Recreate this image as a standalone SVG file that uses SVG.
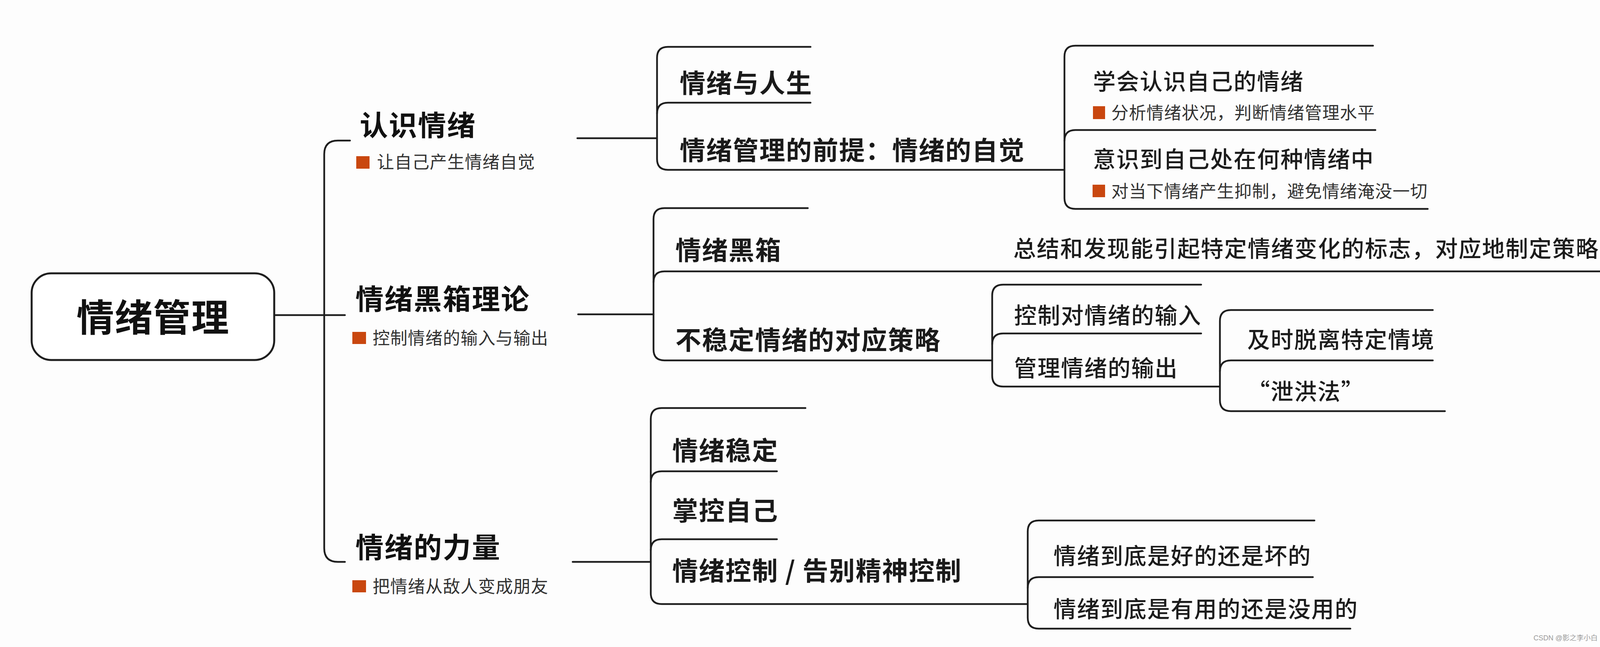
<svg xmlns="http://www.w3.org/2000/svg" width="4128" height="1657" viewBox="0 0 4128 1657">
<style>
  .ln{fill:none;stroke:#1e1e1e;stroke-width:4.5;stroke-linecap:round;stroke-linejoin:round}
  .box{fill:#ffffff;stroke:#1e1e1e;stroke-width:5}
  text{font-family:"Noto Sans CJK SC","Noto Sans",sans-serif}
  .t0{font-size:96px;font-weight:700;fill:#111;letter-spacing:2px}
  .t1{font-size:72px;font-weight:700;fill:#111;letter-spacing:2.5px}
  .t2{font-size:66px;font-weight:700;fill:#1a1a1a;letter-spacing:2px}
  .t3{font-size:58px;font-weight:500;fill:#1c1c1c;letter-spacing:2px}
  .n{font-size:44px;font-weight:400;fill:#333;letter-spacing:1px}
  .sq{fill:#c9470f}
  .wm{font-family:"Liberation Sans","Noto Sans CJK SC",sans-serif;font-size:18px;fill:#9a9a9a}
</style>
<rect x="0" y="0" width="4128" height="1657" fill="#fdfdfd"/>

<g id="connectors">
  <path class="ln" d="M702,807 H883"/>
  <path class="ln" d="M896,360 H865 Q830,360 830,395 V1404 Q830,1439 865,1439 H883"/>
  <path class="ln" d="M1478,354 H1682"/>
  <path class="ln" d="M1480,805 H1673"/>
  <path class="ln" d="M1466,1439 H1666"/>
  <path class="ln" d="M2075,120 H1710 Q1682,120 1682,148 V407 Q1682,435 1710,435 H2725"/>
  <path class="ln" d="M1682,291 Q1682,263 1710,263 H2075"/>
  <path class="ln" d="M3515,117 H2753 Q2725,117 2725,145 V507 Q2725,535 2753,535 H3655"/>
  <path class="ln" d="M2725,361 Q2725,333 2753,333 H3521"/>
  <path class="ln" d="M2068,533 H1701 Q1673,533 1673,561 V895 Q1673,923 1701,923 H2540"/>
  <path class="ln" d="M1673,723 Q1673,695 1701,695 H4100"/>
  <path class="ln" d="M3075,729 H2568 Q2540,729 2540,757 V962 Q2540,990 2568,990 H3123"/>
  <path class="ln" d="M2540,882 Q2540,854 2568,854 H3075"/>
  <path class="ln" d="M3668,794 H3151 Q3123,794 3123,822 V1025 Q3123,1053 3151,1053 H3699"/>
  <path class="ln" d="M3123,951 Q3123,923 3151,923 H3668"/>
  <path class="ln" d="M2062,1045 H1694 Q1666,1045 1666,1073 V1519 Q1666,1547 1694,1547 H2631"/>
  <path class="ln" d="M1666,1235 Q1666,1207 1694,1207 H1989"/>
  <path class="ln" d="M1666,1409 Q1666,1381 1694,1381 H1989"/>
  <path class="ln" d="M3365,1333 H2659 Q2631,1333 2631,1361 V1582 Q2631,1610 2659,1610 H3457"/>
  <path class="ln" d="M2631,1506 Q2631,1478 2659,1478 H3361"/>
</g>

<g id="root">
  <rect class="box" x="81" y="700" width="621" height="222" rx="50" ry="50"/>
  <text class="t0" x="392" y="848" text-anchor="middle">情绪管理</text>
</g>

<g id="n-renshi">
  <text class="t1" x="921" y="347">认识情绪</text>
  <rect class="sq" x="912" y="400" width="34" height="32"/>
  <text class="n" x="965" y="431">让自己产生情绪自觉</text>
</g>
<g id="n-heixiang-lilun">
  <text class="t1" x="910" y="792">情绪黑箱理论</text>
  <rect class="sq" x="902" y="850" width="35" height="31"/>
  <text class="n" x="954" y="882">控制情绪的输入与输出</text>
</g>
<g id="n-liliang">
  <text class="t1" x="910" y="1428">情绪的力量</text>
  <rect class="sq" x="902" y="1486" width="35" height="31"/>
  <text class="n" x="954" y="1518">把情绪从敌人变成朋友</text>
</g>

<g id="n-renshen"><text class="t2" x="1740" y="237">情绪与人生</text></g>
<g id="n-qianti"><text class="t2" x="1740" y="409">情绪管理的前提：情绪的自觉</text></g>
<g id="n-xuehui">
  <text class="t3" x="2798" y="230">学会认识自己的情绪</text>
  <rect class="sq" x="2798" y="272" width="31" height="33"/>
  <text class="n" x="2845" y="305">分析情绪状况，判断情绪管理水平</text>
</g>
<g id="n-yishi">
  <text class="t3" x="2798" y="429">意识到自己处在何种情绪中</text>
  <rect class="sq" x="2797" y="473" width="32" height="32"/>
  <text class="n" x="2845" y="506">对当下情绪产生抑制，避免情绪淹没一切</text>
</g>

<g id="n-heixiang"><text class="t2" x="1729" y="665">情绪黑箱</text></g>
<g id="n-zongjie"><text class="t3" x="2594" y="658" letter-spacing="1.6">总结和发现能引起特定情绪变化的标志，对应地制定策略</text></g>
<g id="n-buwending"><text class="t2" x="1729" y="895">不稳定情绪的对应策略</text></g>
<g id="n-shuru"><text class="t3" x="2596" y="829">控制对情绪的输入</text></g>
<g id="n-shuchu"><text class="t3" x="2596" y="964">管理情绪的输出</text></g>
<g id="n-tuoli"><text class="t3" x="3193" y="891">及时脱离特定情境</text></g>
<g id="n-xiehong"><text class="t3" x="3193" y="1024">“泄洪法”</text></g>

<g id="n-wending"><text class="t2" x="1721" y="1178">情绪稳定</text></g>
<g id="n-zhangkong"><text class="t2" x="1721" y="1332">掌控自己</text></g>
<g id="n-kongzhi"><text class="t2" x="1721" y="1486">情绪控制 / 告别精神控制</text></g>
<g id="n-haohuai"><text class="t3" x="2697" y="1445">情绪到底是好的还是坏的</text></g>
<g id="n-youyong"><text class="t3" x="2697" y="1581">情绪到底是有用的还是没用的</text></g>

<text class="wm" x="4090" y="1640" text-anchor="end">CSDN @影之李小白</text>
</svg>
